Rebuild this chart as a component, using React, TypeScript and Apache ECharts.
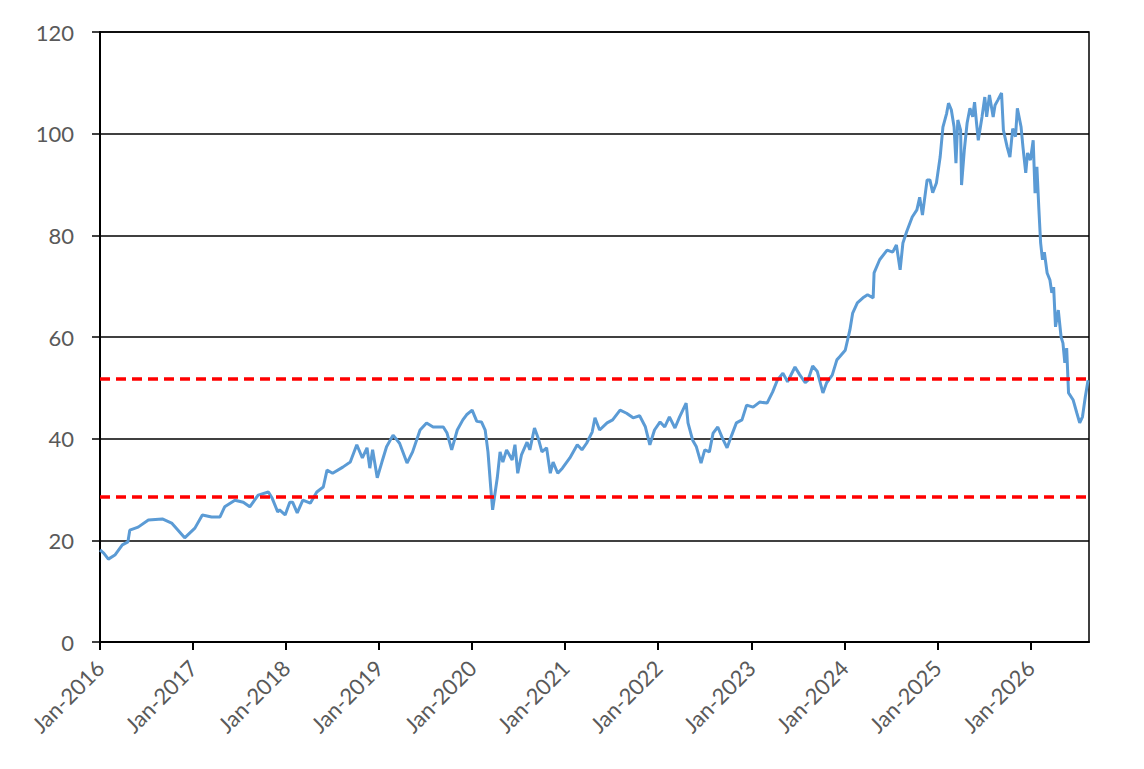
import React, { useEffect, useRef } from "react";
import * as echarts from "echarts";

// Time in decimal years
const years: number[] = [
  2016.00, 2016.04, 2016.09, 2016.16, 2016.24, 2016.30, 2016.32, 2016.41, 2016.52, 2016.67,
  2016.77, 2016.91, 2017.02, 2017.10, 2017.20, 2017.29, 2017.34, 2017.45, 2017.54, 2017.61,
  2017.70, 2017.81, 2017.85, 2017.91, 2017.93, 2017.99, 2018.04, 2018.07, 2018.12, 2018.18,
  2018.26, 2018.33, 2018.40, 2018.44, 2018.50, 2018.61, 2018.69, 2018.76, 2018.82, 2018.87,
  2018.90, 2018.93, 2018.98, 2019.03, 2019.08, 2019.15, 2019.22, 2019.30, 2019.36, 2019.44,
  2019.51, 2019.58, 2019.69, 2019.73, 2019.78, 2019.84, 2019.90, 2019.94, 2020.00, 2020.05,
  2020.10, 2020.14, 2020.17, 2020.20, 2020.22, 2020.27, 2020.30, 2020.33, 2020.37, 2020.43,
  2020.46, 2020.49, 2020.53, 2020.59, 2020.62, 2020.67, 2020.71, 2020.75, 2020.80, 2020.84,
  2020.87, 2020.92, 2020.97, 2021.05, 2021.13, 2021.18, 2021.23, 2021.29, 2021.32, 2021.37,
  2021.45, 2021.51, 2021.59, 2021.66, 2021.73, 2021.80, 2021.86, 2021.91, 2021.96, 2022.02,
  2022.07, 2022.12, 2022.18, 2022.23, 2022.30, 2022.32, 2022.37, 2022.41, 2022.46, 2022.50,
  2022.55, 2022.59, 2022.64, 2022.69, 2022.74, 2022.79, 2022.84, 2022.90, 2022.95, 2023.02,
  2023.09, 2023.17, 2023.23, 2023.28, 2023.34, 2023.39, 2023.47, 2023.52, 2023.58, 2023.61,
  2023.66, 2023.71, 2023.77, 2023.81, 2023.87, 2023.92, 2023.95, 2024.01, 2024.06, 2024.09,
  2024.14, 2024.20, 2024.25, 2024.31, 2024.32, 2024.38, 2024.46, 2024.52, 2024.56, 2024.60,
  2024.63, 2024.67, 2024.73, 2024.78, 2024.81, 2024.84, 2024.89, 2024.92, 2024.95, 2024.99,
  2025.03, 2025.06, 2025.10, 2025.12, 2025.15, 2025.18, 2025.20, 2025.22, 2025.25, 2025.26,
  2025.29, 2025.32, 2025.35, 2025.38, 2025.40, 2025.42, 2025.44, 2025.48, 2025.51, 2025.53,
  2025.56, 2025.60, 2025.62, 2025.65, 2025.69, 2025.71, 2025.75, 2025.78, 2025.81, 2025.84,
  2025.86, 2025.90, 2025.92, 2025.95, 2025.97, 2026.00, 2026.03, 2026.05, 2026.07, 2026.09,
  2026.11, 2026.13, 2026.15, 2026.18, 2026.21, 2026.23, 2026.25, 2026.27, 2026.30, 2026.33,
  2026.35, 2026.37, 2026.39, 2026.41, 2026.46, 2026.50, 2026.53, 2026.56, 2026.59, 2026.62,
];

const prices: number[] = [
  18.1, 17.5, 16.3, 17.1, 19.1, 19.7, 22.0, 22.6, 24.0, 24.2,
  23.4, 20.5, 22.4, 25.0, 24.6, 24.6, 26.6, 27.9, 27.5, 26.6,
  28.9, 29.5, 28.3, 25.6, 26.0, 25.0, 27.5, 27.5, 25.4, 27.9,
  27.3, 29.5, 30.5, 33.8, 33.2, 34.4, 35.4, 38.8, 36.2, 38.2,
  34.2, 37.8, 32.3, 35.4, 38.4, 40.7, 39.1, 35.2, 37.4, 41.7,
  43.1, 42.3, 42.3, 41.1, 37.8, 41.7, 43.7, 44.7, 45.6, 43.4,
  43.3, 41.7, 37.4, 30.3, 26.0, 32.3, 37.4, 35.4, 37.8, 35.8,
  38.8, 33.2, 36.8, 39.3, 37.8, 42.1, 40.1, 37.4, 38.2, 33.2,
  35.4, 33.2, 34.2, 36.2, 38.8, 37.8, 39.1, 41.3, 44.1, 41.7,
  43.1, 43.7, 45.6, 45.0, 44.1, 44.5, 42.4, 38.8, 41.7, 43.3,
  42.3, 44.3, 42.1, 44.3, 47.0, 43.1, 39.7, 38.4, 35.2, 37.8,
  37.4, 41.1, 42.3, 40.1, 38.2, 40.7, 43.1, 43.7, 46.6, 46.2,
  47.2, 47.0, 49.2, 51.5, 52.9, 51.2, 54.1, 52.6, 51.0, 51.5,
  54.3, 53.2, 49.0, 51.0, 52.5, 55.5, 56.1, 57.4, 61.4, 64.7,
  66.7, 67.7, 68.3, 67.7, 72.6, 75.2, 77.1, 76.7, 78.1, 73.2,
  78.5, 80.7, 83.6, 85.0, 87.5, 84.0, 90.9, 90.9, 88.4, 90.3,
  95.4, 101.3, 104.0, 106.0, 104.7, 101.3, 94.2, 102.7, 100.7, 89.9,
  96.8, 102.1, 105.0, 103.3, 106.2, 102.3, 98.7, 103.3, 107.2, 103.3,
  107.6, 103.3, 105.6, 106.6, 108.0, 100.7, 97.4, 95.4, 101.0, 99.4,
  105.0, 101.3, 97.4, 92.3, 96.2, 94.8, 98.7, 88.3, 93.5, 85.6,
  78.5, 75.2, 76.7, 72.6, 71.2, 68.7, 69.8, 62.0, 65.3, 60.0,
  58.8, 54.9, 57.8, 49.0, 47.6, 45.0, 43.1, 44.3, 48.2, 51.5,
];

const tickYears: number[] = [2016, 2017, 2018, 2019, 2020, 2021, 2022, 2023, 2024, 2025, 2026];
const bandLevels: number[] = [51.8, 28.6];

const FONT = "Lato, 'Open Sans', sans-serif";
const LABEL_COLOR = "#595959";

export default function App() {
  const ref = useRef<HTMLDivElement>(null);

  useEffect(() => {
    if (!ref.current) return;
    const chart = echarts.init(ref.current, null, { renderer: "svg" });
    const seriesData = years.map((y, i) => [y, prices[i]]);
    chart.setOption({
      animation: false,
      backgroundColor: "#ffffff",
      grid: {
        left: 100,
        top: 32,
        right: 55,
        bottom: 127,
        show: true,
        borderColor: "#000",
        borderWidth: 1.5,
        containLabel: false,
      },
      xAxis: {
        type: "value",
        min: 2016,
        max: 2026.63,
        interval: 1,
        axisLine: { show: true, onZero: false, lineStyle: { color: "#000", width: 2 } },
        axisTick: {
          show: true,
          length: 8,
          inside: false,
          customValues: tickYears,
          lineStyle: { color: "#000", width: 2 },
        },
        axisLabel: {
          show: true,
          customValues: tickYears,
          rotate: 45,
          margin: 22,
          color: LABEL_COLOR,
          fontSize: 22,
          fontFamily: FONT,
          formatter: (v: number) => "Jan-" + Math.round(v),
        },
        splitLine: { show: false },
      },
      yAxis: {
        type: "value",
        min: 0,
        max: 120,
        interval: 20,
        axisLine: { show: true, lineStyle: { color: "#000", width: 2 } },
        axisTick: { show: true, length: 8, inside: false, lineStyle: { color: "#000", width: 1.5 } },
        axisLabel: {
          color: LABEL_COLOR,
          fontSize: 22,
          fontFamily: FONT,
          margin: 26,
        },
        splitLine: { show: true, lineStyle: { color: "#000", width: 1.5 } },
      },
      series: [
        {
          type: "line",
          data: seriesData,
          showSymbol: false,
          symbol: "none",
          lineStyle: { color: "#5b9bd5", width: 3 },
          z: 3,
          markLine: {
            silent: true,
            symbol: "none",
            label: { show: false },
            lineStyle: { color: "#ff0000", width: 3.5, type: [10, 6] },
            data: bandLevels.map((v) => ({ yAxis: v })),
            z: 4,
          },
        },
      ],
    });
    return () => chart.dispose();
  }, []);

  return (
    <div
      ref={ref}
      style={{ position: "fixed", left: 0, top: 0, width: 1144, height: 769, background: "#fff" }}
    />
  );
}
